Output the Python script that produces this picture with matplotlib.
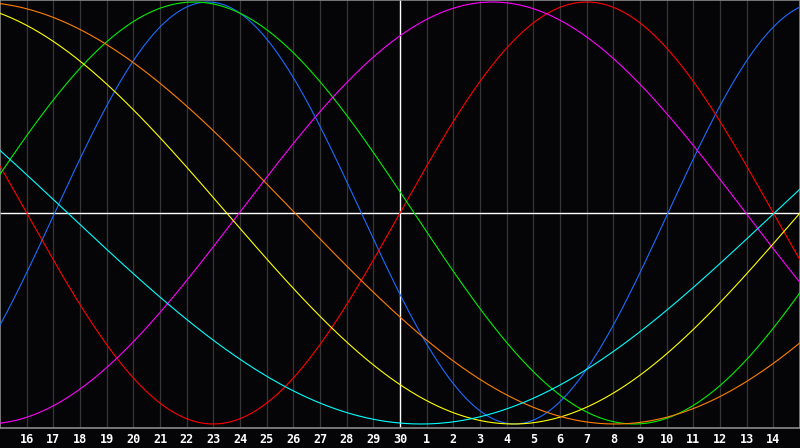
import numpy as np
import matplotlib
matplotlib.use("Agg")
from matplotlib import pyplot as plt

# Ciclos del biorritmo (periodo en dias y dia del maximo)
cycle_names = ["fisico", "emocional", "intelectual", "intuitivo", "estetico", "conciencia", "espiritual"]
periods = [23, 28, 33, 38, 43, 48, 53]
peak_day = [7.8, 22.0, 7.28, 18.47, -2.25, -0.94, -10.71]
colors = ["#1a6cff", "#ff0000", "#00ee00", "#ff00ff", "#ffff00", "#ff7f00", "#00ffff"]

# Etiquetas de los dias (posiciones 1..29, hoy = 30 en el centro)
day_labels = [str(d) for d in range(16, 31)] + [str(d) for d in range(1, 15)]
today_pos = 15

fig = plt.figure(figsize=(8, 4.48), dpi=100)
fig.patch.set_facecolor("#050508")
ax = fig.add_axes([0, 20 / 448, 1, 428 / 448])
ax.set_facecolor("#050508")

# Rejilla vertical
for i in range(1, 30):
    if i != today_pos:
        ax.axvline(i, color="#363636", lw=0.9, zorder=1)

x = np.linspace(0, 30, 1201)
for name, p, pk, c in zip(cycle_names, periods, peak_day, colors):
    ax.plot(x, np.cos(2 * np.pi * (x - pk) / p), color=c, lw=0.8, zorder=3, label=name)

# Lineas de hoy y de cero
ax.axvline(today_pos, color="white", lw=1.0, zorder=2)
ax.axhline(0, color="white", lw=1.0, zorder=2)

ax.set_xlim(0, 30)
ax.set_ylim(-1.019, 1.0095)
ax.set_xticks([])
ax.set_yticks([])
for s in ax.spines.values():
    s.set_color("#8a8a8a")
    s.set_linewidth(1.2)

for i, lab in enumerate(day_labels, start=1):
    fig.text(i / 30, 1 - 439 / 448, lab, color="white", fontsize=8.5, fontweight="bold",
             ha="center", va="center", family="DejaVu Sans Mono")

fig.savefig("out.png", dpi=100, facecolor=fig.get_facecolor())
